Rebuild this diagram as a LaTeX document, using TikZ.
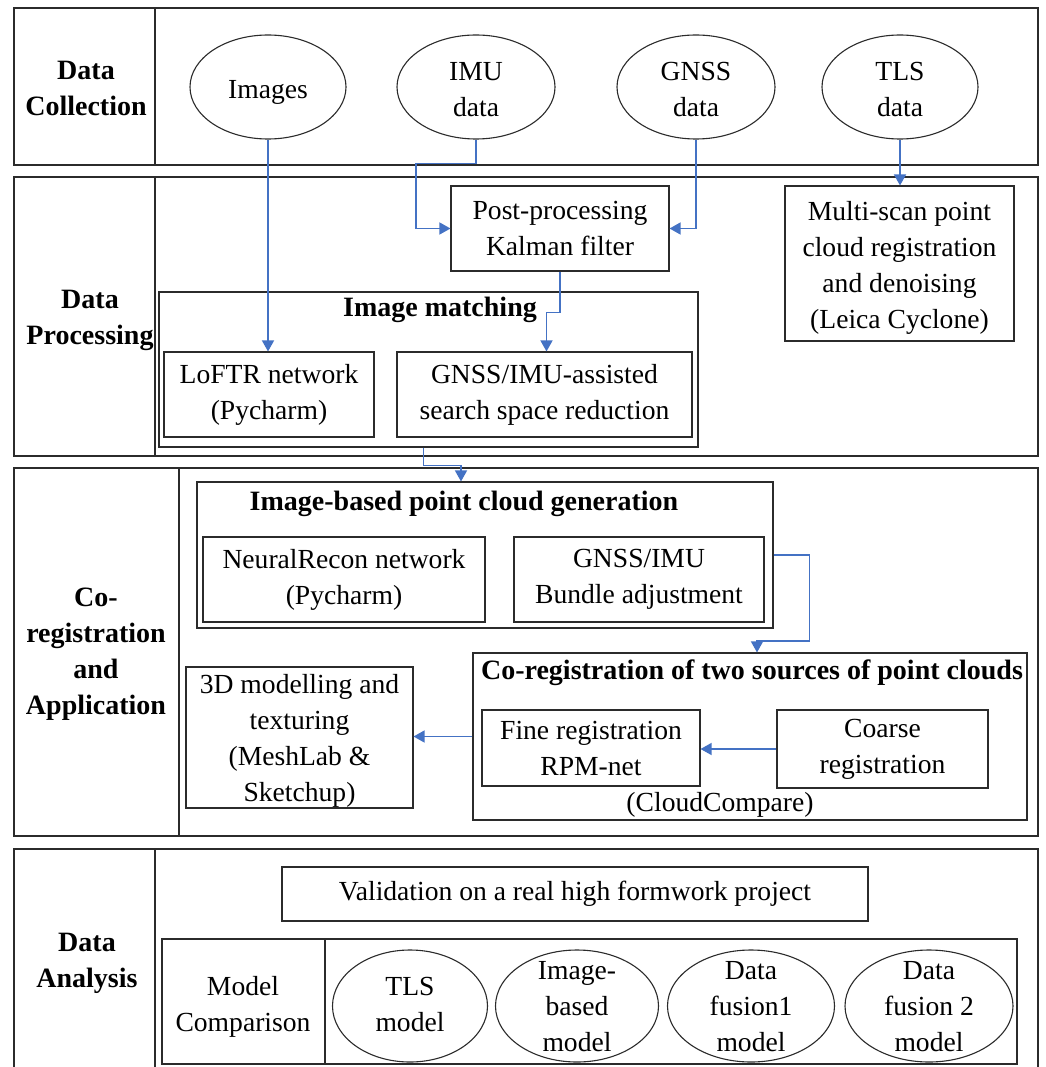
\documentclass[tikz,border=0pt]{standalone}
\usepackage{fontspec}
\setmainfont{Liberation Serif}
\usetikzlibrary{shapes.geometric,arrows.meta,calc}
\definecolor{flowblue}{HTML}{4472C4}
\definecolor{edge}{HTML}{2B2B2B}
\begin{document}
\begin{tikzpicture}[x=1pt,y=-1pt,
  every node/.style={font=\fontsize{27.6}{36}\selectfont, align=center, inner sep=0pt},
  box/.style={rectangle, draw=edge, line width=1.1pt, inner sep=0pt},
  sz/.style 2 args={minimum width=#1, minimum height=#2},
  ell/.style={ellipse, draw=edge, line width=1.1pt, inner sep=0pt},
  divider/.style={draw=edge, line width=1.1pt},
  stage/.style={font=\fontsize{28}{36}\selectfont\bfseries},
  title/.style={font=\fontsize{28}{36}\selectfont\bfseries},
  arr/.style={draw=flowblue, line width=1.4pt, -{Triangle[length=11pt,width=12pt]}}
]
\clip (0,0) rectangle (1045,1067);
\fill[white] (0,0) rectangle (1045,1067);

% ---------- Data Collection ----------
\node[box, sz={1024}{157}] (sec1) at (526,86.5) {};
\draw[divider] (155,8) -- (155,165);
\node[stage] (lbl1) at (86,88) {Data\\Collection};
\node[ell, sz={156}{104}] (img) at (268,87) {\raisebox{-5pt}[\height][\depth]{Images}};
\node[ell, sz={158}{104}] (imu) at (476,87) {\rule{0pt}{24pt}IMU\\data};
\node[ell, sz={158}{104}] (gnss) at (696,87) {\rule{0pt}{24pt}GNSS\\data};
\node[ell, sz={156}{104}] (tls) at (900,87) {\rule{0pt}{24pt}TLS\\data};

% ---------- Data Processing ----------
\node[box, sz={1024}{279}] (sec2) at (526,316.5) {};
\draw[divider] (155,177) -- (155,456);
\node[stage] (lbl2) at (90,320) {Data\\Processing};
\node[box, sz={218}{85}] (kalman) at (560,228.5) {Post-processing\\Kalman filter};
\node[box, sz={229}{155}] (multi) at (899.5,263.5) {\rule{0pt}{27pt}Multi-scan point\\cloud registration\\and denoising\\(Leica Cyclone)};
\node[box, sz={539}{155}] (imatch) at (428.5,369.5) {};
\node[title] (imatchT) at (440,310) {Image matching};
\node[box, sz={210}{85}] (loftr) at (269,394.5) {LoFTR network\\(Pycharm)};
\node[box, sz={295}{85}] (ssr) at (544.5,394.5) {GNSS/IMU-assisted\\search space reduction};

% ---------- Co-registration and Application ----------
\node[box, sz={1024}{368}] (sec3) at (526,652) {};
\draw[divider] (179,468) -- (179,836);
\node[stage] (lbl3) at (96,654) {Co-\\registration\\and\\Application};
\node[box, sz={576}{146}] (ibpc) at (485,555) {};
\node[title] (ibpcT) at (464,504) {Image-based point cloud generation};
\node[box, sz={282}{85}] (neural) at (344,579.5) {NeuralRecon network\\(Pycharm)};
\node[box, sz={250}{85}] (bundle) at (639,579.5) {GNSS/IMU\\Bundle adjustment};
\node[box, sz={554}{167}] (coreg) at (750,736.5) {};
\node[title] (coregT) at (752,673) {Co-registration of two sources of point clouds};
\node[box, sz={218}{76}] (fine) at (591,748) {Fine registration\\RPM-net};
\node[box, sz={211}{78}] (coarse) at (882.5,749) {Coarse\\registration};
\node (cc) at (720,805) {(CloudCompare)};
\node[box, sz={227}{141}] (model3d) at (299.5,737.5) {\rule{0pt}{26pt}3D modelling and\\texturing\\(MeshLab \&\\Sketchup)};

% ---------- Data Analysis ----------
\node[box, sz={1024}{241}] (sec4) at (526,969.5) {};
\draw[divider] (155,849) -- (155,1090);
\node[stage] (lbl4) at (87,963) {Data\\Analysis};
\node[box, sz={586}{54}] (valid) at (575,894) {Validation on a real high formwork project};
\node[box, sz={855}{125}] (cmp) at (589.5,1001.5) {};
\draw[divider] (325,939) -- (325,1064);
\node (cmpT) at (243,1007) {Model\\Comparison};
\node[ell, sz={155}{112}] (m1) at (410,1006) {};
\node[ell, sz={163}{112}] (m2) at (577,1006) {};
\node[ell, sz={167}{112}] (m3) at (751,1006) {};
\node[ell, sz={168}{112}] (m4) at (929,1006) {};
\node (m1T) at ([yshift=2]m1) {TLS\\model};
\node (m2T) at ([yshift=-1]m2) {Image-\\based\\model};
\node (m3T) at ([yshift=-1]m3) {Data\\fusion1\\model};
\node (m4T) at ([yshift=-1]m4) {Data\\fusion 2\\model};

% ---------- Connectors ----------
\draw[arr] (img.south) -- (img.south |- loftr.north);
\draw[arr] (imu.south) -- ++(0,24) -- ++(-60,0) |- (kalman.west);
\draw[arr] (gnss.south) |- (kalman.east);
\draw[arr] (tls.south) -- (tls.south |- multi.north);
\draw[arr] (kalman.south) -- ++(0,41) -| ([xshift=2]ssr.north);
\draw[arr] ([xshift=-5]imatch.south) -- ++(0,18) -| ([xshift=-24]ibpc.north);
\draw[arr] (ibpc.east) -- ++(36,0) -- ++(0,86) -| ([xshift=7]coreg.north);
\draw[arr] (coarse.west) -- (coarse.west -| fine.east);
\draw[arr] (coreg.west) -- (coreg.west -| model3d.east);
\end{tikzpicture}
\end{document}
